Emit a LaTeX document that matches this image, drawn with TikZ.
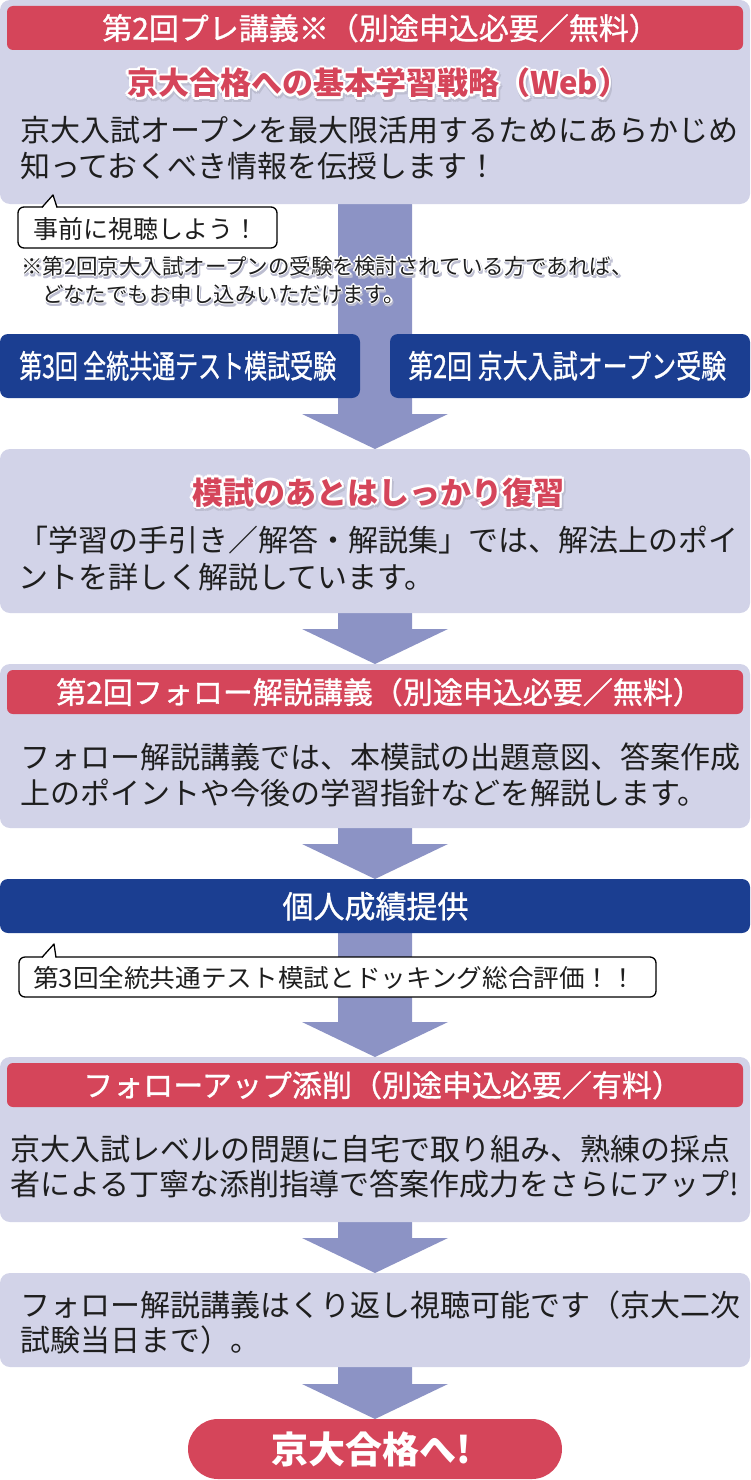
\documentclass[tikz,border=0pt]{standalone}
\usepackage{fontspec}
\setmainfont{Noto Sans CJK JP}
\newfontfamily\jpm{Noto Sans CJK JP}[FakeBold=1.0]
\usepackage{graphicx}
\usetikzlibrary{calc}
\pgfdeclarelayer{bg}
\pgfsetlayers{bg,main}
\definecolor{lav}{HTML}{D2D3E8}
\definecolor{arr}{HTML}{8C93C5}
\definecolor{redh}{HTML}{D5455A}
\definecolor{navy}{HTML}{1B3E91}
\definecolor{txt}{HTML}{1E1E1E}
\definecolor{shad}{RGB}{188,189,208}
\newcommand\fsz[1]{\fontsize{#1pt}{#1pt}\selectfont}
\newcommand\fitto[2]{\sbox0{#2}\scalebox{\fpeval{(#1)/(\the\wd0)}}[1]{\usebox0}}
\newcommand\halotxt[6]{%
  \foreach \a in {0,45,...,315}{
    \node[inner sep=0, anchor=base west, text=shad, font=#4] (#1s\a) at ($(#2,#3)+(1.2,2.2)+(\a:#5)$) {#6};
  }
  \foreach \a in {0,45,...,315}{
    \node[inner sep=0, anchor=base west, text=white, font=#4] (#1w\a) at ($(#2,#3)+(\a:#5)$) {#6};
  }
}
\newcommand\blockarrow[2]{%
  \begin{pgfonlayer}{bg}
  \path[arrowfill] let \p1=(#1.south), \p2=(#2.north) in
    (\x1-37pt,\y1+3pt) -- (\x1+37pt,\y1+3pt) -- (\x1+37pt,\y2+35pt) -- (\x1+73pt,\y2+35pt)
    -- (\x1,\y2) -- (\x1-73pt,\y2+35pt) -- (\x1-37pt,\y2+35pt) -- cycle;
  \end{pgfonlayer}
}
\tikzset{
  lavbox/.style={fill=lav, rounded corners=10pt, inner sep=0, outer sep=0, anchor=north west},
  redbar/.style={fill=redh, rounded corners=6pt, inner sep=0, outer sep=0, anchor=north west},
  navybox/.style={fill=navy, rounded corners=8pt, inner sep=0, outer sep=0, anchor=north west},
  callbox/.style={fill=white, draw=black, line width=1.3pt, rounded corners=6pt, inner sep=0, outer sep=0, anchor=north west},
  bodytxt/.style={inner sep=0, anchor=base west, text=txt, font=\fsz{30}},
  hdrtxt/.style={inner sep=0, anchor=base west, text=white, font=\jpm\fsz{30}},
  navytxt/.style={inner sep=0, anchor=base west, text=white, font=\jpm\fsz{32}},
  calltxt/.style={inner sep=0, anchor=base west, text=txt},
  arrowfill/.style={fill=arr},
}
\begin{document}
\begin{tikzpicture}[x=1pt,y=-1pt]
\useasboundingbox (0,0) rectangle (750,1480);

% ---- box 1
\node[lavbox, minimum width=750pt, minimum height=204pt] (b1) at (0,0) {};
\node[redbar, minimum width=736pt, minimum height=44pt] (h1) at (7,6) {};
\node[hdrtxt] (h1t) at (102,39.5) {第2回プレ講義※（別途申込必要／無料）};
\halotxt{t1}{127}{95}{\fsz{31}\bfseries}{2.6}{京大合格への基本学習戦略（Web）}
\node[inner sep=0, anchor=base west, text=redh, font=\fsz{31}\bfseries] (t1) at (127,95) {京大合格への基本学習戦略（Web）};
\node[bodytxt] (b1l1) at (20,141) {京大入試オープンを最大限活用するためにあらかじめ};
\node[bodytxt] (b1l2) at (20,177) {知っておくべき情報を伝授します！};

% ---- callout 1 and note
\node[callbox, minimum width=259pt, minimum height=41pt] (c1) at (18,207) {};
\fill[white] (42.5,208.2) -- (53,195) -- (56.5,208.2) -- cycle;
\draw[line width=1.3pt, line join=round] (42,207.3) -- (53,195) -- (57,207.3);
\node[calltxt, font=\fsz{25}] (c1t) at (33,238.5) {事前に視聴しよう！};
\halotxt{n1}{21}{274}{\fsz{21.5}}{1.4}{※第2回京大入試オープンの受験を検討されている方であれば、}
\node[calltxt, font=\fsz{21.5}] (n1) at (21,274) {※第2回京大入試オープンの受験を検討されている方であれば、};
\halotxt{n2}{42}{302}{\fsz{21.5}}{1.4}{どなたでもお申し込みいただけます。}
\node[calltxt, font=\fsz{21.5}] (n2) at (42,302) {どなたでもお申し込みいただけます。};

% ---- navy boxes
\node[navybox, minimum width=360pt, minimum height=64pt] (nl) at (0,334) {};
\node[navybox, minimum width=360pt, minimum height=64pt] (nr) at (390,334) {};
\node[navytxt] (nlt) at (19,378) {\fitto{317pt}{第3回 全統共通テスト模試受験}};
\node[navytxt] (nrt) at (408,378) {\fitto{318pt}{第2回 京大入試オープン受験}};

% ---- box 2
\node[lavbox, minimum width=750pt, minimum height=164pt] (b2) at (0,449) {};
\halotxt{t2}{192}{504}{\fsz{31}\bfseries}{2.6}{模試のあとはしっかり復習}
\node[inner sep=0, anchor=base west, text=redh, font=\fsz{31}\bfseries] (t2) at (192,504) {模試のあとはしっかり復習};
\node[bodytxt] (b2l1) at (18,551) {「学習の手引き／解答・解説集」では、解法上のポイ};
\node[bodytxt] (b2l2) at (18,588) {ントを詳しく解説しています。};

% ---- box 3
\node[lavbox, minimum width=750pt, minimum height=164pt] (b3) at (0,664) {};
\node[redbar, minimum width=736pt, minimum height=44pt] (h3) at (7,670) {};
\node[hdrtxt] (h3t) at (56,703.5) {第2回フォロー解説講義（別途申込必要／無料）};
\node[bodytxt] (b3l1) at (20,768) {フォロー解説講義では、本模試の出題意図、答案作成};
\node[bodytxt] (b3l2) at (20,804) {上のポイントや今後の学習指針などを解説します。};

% ---- navy 個人成績提供
\node[navybox, minimum width=750pt, minimum height=54pt] (n3) at (0,879) {};
\node[inner sep=0, anchor=base, text=white, font=\jpm\fsz{31}] (n3t) at (375.5,918) {個人成績提供};

% ---- callout 2
\node[callbox, minimum width=637pt, minimum height=40pt] (c2) at (19,957) {};
\fill[white] (42.5,958.2) -- (54,944) -- (55.5,958.2) -- cycle;
\draw[line width=1.3pt, line join=round] (42,957.3) -- (54,944) -- (56,957.3);
\node[calltxt, font=\fsz{25}] (c2t) at (33,987) {\fitto{603pt}{第3回全統共通テスト模試とドッキング総合評価！！}};

% ---- box 4
\node[lavbox, minimum width=750pt, minimum height=165pt] (b4) at (0,1057) {};
\node[redbar, minimum width=736pt, minimum height=44pt] (h4) at (7,1063) {};
\node[hdrtxt] (h4t) at (83,1096.5) {フォローアップ添削（別途申込必要／有料）};
\node[bodytxt] (b4l1) at (10,1160) {京大入試レベルの問題に自宅で取り組み、熟練の採点};
\node[bodytxt] (b4l2) at (10,1195) {者による丁寧な添削指導で答案作成力をさらにアップ!};

% ---- box 5
\node[lavbox, minimum width=750pt, minimum height=94pt] (b5) at (0,1273) {};
\node[bodytxt] (b5l1) at (20,1316) {フォロー解説講義はくり返し視聴可能です（京大二次};
\node[bodytxt] (b5l2) at (20,1351) {試験当日まで）。};

% ---- final pill
\node[fill=redh, rounded corners=30pt, inner sep=0, outer sep=0, anchor=north west, minimum width=374pt, minimum height=60pt] (goal) at (188,1419) {};
\node[inner sep=0, anchor=base west, text=white, font=\fsz{37}\bfseries] (goalt) at (271,1463) {京大合格へ!};

% ---- arrows
\blockarrow{b1}{b2}
\blockarrow{b2}{b3}
\blockarrow{b3}{n3}
\blockarrow{n3}{b4}
\blockarrow{b4}{b5}
\blockarrow{b5}{goal}
\end{tikzpicture}
\end{document}
